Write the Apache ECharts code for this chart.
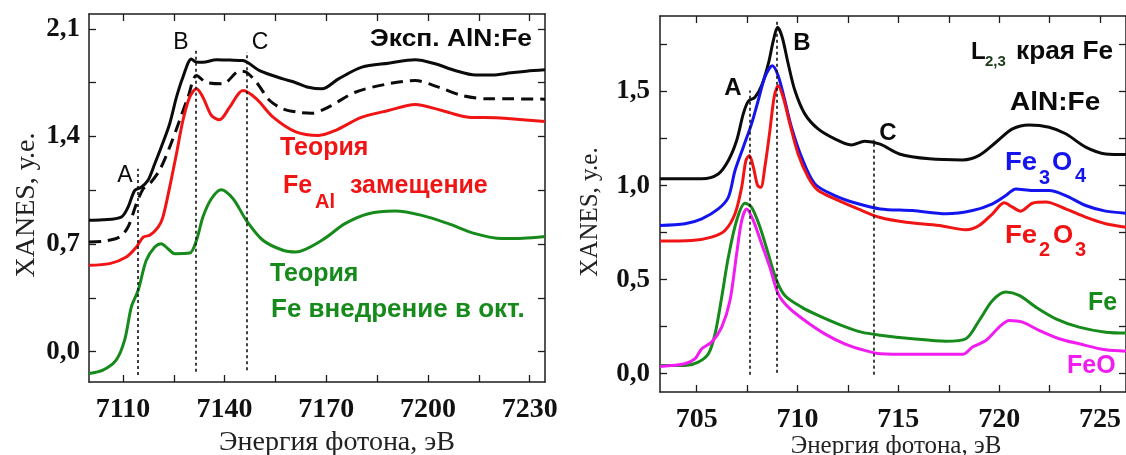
<!DOCTYPE html>
<html><head><meta charset="utf-8">
<script src="https://cdn.jsdelivr.net/npm/echarts@6/dist/echarts.min.js"></script>
<style>html,body{margin:0;padding:0;background:#fff;}#c{width:1126px;height:455px;}</style>
</head><body><div id="c"></div>
<script>
// ---------- LEFT PANEL (Fe K-edge) ----------
const leftExpE = [7100,7104,7109.5,7111.5,7113.5,7115.4,7117.4,7119.4,7121.3,7123.8,7125.8,7127.7,7130.2,7131.5,7133.6,7137.6,7141.5,7145.4,7150.3,7157.2,7161,7164.7,7168.7,7173.6,7180.5,7188.3,7196.2,7202.1,7208,7214,7219,7224.5,7229,7234.5];
const leftExpY = [0.855,0.858,0.876,0.94,1.05,1.07,1.115,1.223,1.33,1.483,1.656,1.786,1.905,1.885,1.883,1.899,1.897,1.894,1.829,1.775,1.75,1.72,1.71,1.775,1.851,1.877,1.899,1.873,1.829,1.80,1.80,1.815,1.825,1.834];
const leftDashE = [7100,7104.1,7109,7111.5,7114,7116,7117.9,7120.8,7123.8,7126.7,7129.2,7131.7,7134.6,7139.5,7144.4,7146.4,7149.4,7153.3,7157.2,7161.7,7165.7,7170.6,7178.5,7188.3,7196.2,7203.1,7210,7217.8,7224.5,7234.5];
const leftDashY = [0.714,0.718,0.746,0.811,0.963,1.06,1.093,1.18,1.331,1.504,1.656,1.797,1.753,1.743,1.825,1.818,1.753,1.634,1.58,1.558,1.552,1.591,1.688,1.743,1.764,1.721,1.667,1.645,1.645,1.643];
const leftRedE = [7100,7106.1,7111,7114,7116,7117.9,7120.4,7121.8,7123.8,7125.8,7127.7,7129.7,7131.7,7133.6,7136.1,7138.5,7141.5,7145.4,7149.4,7154.3,7161,7167.7,7172.6,7180.5,7188.3,7196.2,7204.1,7211.9,7219.8,7224.5,7234.5];
const leftRedY = [0.562,0.573,0.616,0.681,0.746,0.757,0.811,0.876,1.071,1.288,1.504,1.656,1.71,1.656,1.537,1.509,1.591,1.699,1.645,1.526,1.43,1.407,1.439,1.526,1.569,1.608,1.569,1.526,1.522,1.515,1.498];
const leftGreenE = [7100,7104.1,7108,7110.5,7112.5,7114.5,7116.9,7119.4,7121.3,7123.3,7125.3,7129.7,7131.7,7133.6,7136.1,7139,7142.5,7146.4,7151.3,7157.2,7161,7168.7,7175.5,7182.4,7190.3,7198.2,7206,7213.9,7221.8,7228,7234.5];
const leftGreenY = [-0.142,-0.12,-0.055,0.075,0.292,0.4,0.595,0.681,0.703,0.67,0.638,0.642,0.725,0.876,0.995,1.054,0.995,0.855,0.725,0.66,0.649,0.725,0.833,0.898,0.915,0.887,0.833,0.768,0.736,0.738,0.75];
const leftMarkE = [7114.3,7131.5,7146.4];
const leftMarkTop = [1.19,1.96,1.95];
const leftMarkBottom = [-0.152,-0.13,-0.12];
const leftXTicks = [7110,7125,7140,7155,7170,7185,7200,7215,7230];
const leftXLabels = [7110,7140,7170,7200,7230];
const leftYTicks = [0,0.35,0.7,1.05,1.4,1.75,2.1];
const leftYLabels = [0,0.7,1.4,2.1];

// ---------- RIGHT PANEL (Fe L2,3-edge) ----------
const rightAlnE = [703.18,705.25,706.07,706.57,706.98,707.31,707.56,707.89,708.22,708.55,708.8,709.01,709.24,709.54,709.87,710.36,711.02,711.85,712.67,713.33,714.1,715.05,716.54,718.19,719.01,719.84,720.66,721.49,722.48,723.3,724.29,725.28,726.29];
const rightAlnY = [1.036,1.036,1.062,1.133,1.239,1.381,1.448,1.469,1.531,1.646,1.77,1.841,1.788,1.646,1.505,1.381,1.301,1.248,1.216,1.236,1.22,1.168,1.142,1.136,1.16,1.23,1.301,1.322,1.31,1.275,1.204,1.168,1.165];
const rightFe3O4E = [703.18,704.42,705.25,706.07,706.57,706.9,707.31,707.72,708.05,708.38,708.75,709.04,709.37,709.7,710.2,710.86,711.85,713.0,714.1,715.71,717.36,718.68,719.67,720.33,720.83,721.65,722.48,723.3,724.29,725.28,726.29];
const rightFe3O4Y = [0.788,0.797,0.823,0.876,0.938,1.08,1.204,1.328,1.452,1.576,1.637,1.584,1.452,1.31,1.151,1.009,0.947,0.903,0.876,0.867,0.85,0.867,0.903,0.947,0.982,0.974,0.974,0.947,0.894,0.864,0.853];
const rightFe2O3E = [703.18,704.75,705.74,706.4,706.9,707.23,707.44,707.61,707.81,708.02,708.18,708.38,708.63,708.84,709.04,709.29,709.62,710.03,710.53,711.02,711.85,713.0,714.1,715.38,717.03,718.35,719.01,719.67,720.25,720.66,721.07,721.65,722.31,723.3,724.29,725.28,726.29];
const rightFe2O3Y = [0.705,0.708,0.726,0.761,0.85,0.991,1.133,1.16,1.098,1.0,0.991,1.098,1.292,1.469,1.531,1.469,1.328,1.168,1.044,0.974,0.929,0.876,0.83,0.805,0.788,0.765,0.788,0.85,0.908,0.885,0.864,0.906,0.912,0.876,0.832,0.797,0.779];
const rightFeE = [703.18,704.42,705.08,705.58,705.91,706.24,706.57,706.98,707.39,707.72,708.14,708.55,708.96,709.37,710.2,711.02,712.18,713.17,714.1,715.71,717.36,718.35,719.01,719.67,720.33,720.99,721.82,722.81,723.96,725.28,726.29];
const rightFeY = [0.044,0.044,0.062,0.106,0.212,0.407,0.62,0.814,0.906,0.885,0.779,0.637,0.496,0.416,0.354,0.31,0.257,0.221,0.205,0.186,0.173,0.186,0.283,0.389,0.434,0.416,0.354,0.292,0.248,0.221,0.216];
const rightFeOE = [703.18,704.42,704.92,705.25,705.74,706.24,706.65,706.98,707.23,707.48,707.81,708.22,708.63,709.04,709.54,710.36,711.35,712.34,713.33,714.1,715.71,718.19,718.68,719.34,720.0,720.5,721.16,721.98,722.97,723.96,725.28,726.29];
const rightFeOY = [0.039,0.053,0.08,0.133,0.168,0.248,0.389,0.637,0.814,0.876,0.814,0.69,0.566,0.425,0.354,0.283,0.212,0.159,0.124,0.106,0.103,0.103,0.142,0.177,0.248,0.283,0.274,0.23,0.186,0.159,0.127,0.12];
const rightMarkE = [707.64,708.96,713.8];
const rightMarkTop = [1.505,1.876,1.243];
const rightMarkBottom = [-0.005,0.005,-0.005];
const rightXTicks = [705,707.5,710,712.5,715,717.5,720,722.5,725];
const rightXLabels = [705,710,715,720,725];
const rightYTicks = [0,0.25,0.5,0.75,1,1.25,1.5,1.75];
const rightYLabels = [0,0.5,1,1.5];

// ---------- styling ----------
const AX = '#1c1c1c';
const BLACK = '#0b0b0b', RED = '#f01414', GREEN = '#178a1c', BLUE = '#1414ee', MAG = '#f01cf0';
const SANS = '"Liberation Sans", Arial, sans-serif';
const SERIF = '"Liberation Serif", "Times New Roman", serif';
const zip = (a, b) => a.map((v, i) => [v, b[i]]);
const comma = v => (Math.round(v * 10) / 10).toFixed(1).replace('.', ',');

function xAx(grid, min, max, ticks, labels, pos, size, margin) {
  return {
    type: 'value', gridIndex: grid, min: min, max: max, position: pos,
    axisLine: {show: true, onZero: false, lineStyle: {color: AX, width: 1.5}},
    axisTick: {show: true, inside: true, length: 7, customValues: ticks, lineStyle: {color: AX, width: 1.3}},
    axisLabel: labels ? {show: true, customValues: labels, formatter: v => String(v), color: '#111',
      fontFamily: SERIF, fontWeight: 'bold', fontSize: size, margin: margin} : {show: false},
    splitLine: {show: false}
  };
}
function yAx(grid, min, max, ticks, labels, pos, size, margin) {
  return {
    type: 'value', gridIndex: grid, min: min, max: max, position: pos,
    axisLine: {show: true, onZero: false, lineStyle: {color: AX, width: 1.5}},
    axisTick: {show: true, inside: true, length: 7, customValues: ticks, lineStyle: {color: AX, width: 1.3}},
    axisLabel: labels ? {show: true, customValues: labels, formatter: comma, color: '#111',
      fontFamily: SERIF, fontWeight: 'bold', fontSize: size, margin: margin} : {show: false},
    splitLine: {show: false}
  };
}
function line(name, xi, yi, data, color, dash) {
  return {name: name, type: 'line', xAxisIndex: xi, yAxisIndex: yi, data: data, showSymbol: false,
    smooth: 0.3, lineStyle: {color: color, width: 3, type: dash || 'solid'}, z: 3};
}
function marks(E, top, bot) {
  return {symbol: 'none', silent: true, label: {show: false},
    lineStyle: {color: '#111', width: 1.6, type: [3, 3]},
    data: E.map((e, i) => [{coord: [e, bot[i]]}, {coord: [e, top[i]]}])};
}
function txt(t, x, y, font, fill, align, rot, sx) {
  return {type: 'text', x: x, y: y, rotation: rot || 0, scaleX: sx || 1, z: 10,
    style: {text: t, font: font, fill: fill, align: align || 'left', verticalAlign: 'middle'}};
}

const s1 = line('Эксп. AlN:Fe', 0, 0, zip(leftExpE, leftExpY), BLACK);
const s2 = line('AlN:Fe (пунктир)', 0, 0, zip(leftDashE, leftDashY), BLACK, [12, 7]);
const s3 = line('Теория FeAl замещение', 0, 0, zip(leftRedE, leftRedY), RED);
const s4 = line('Теория Fe внедрение в окт.', 0, 0, zip(leftGreenE, leftGreenY), GREEN);
s1.markLine = marks(leftMarkE, leftMarkTop, leftMarkBottom);
const r1 = line('AlN:Fe', 2, 2, zip(rightAlnE, rightAlnY), BLACK);
const r2 = line('Fe3O4', 2, 2, zip(rightFe3O4E, rightFe3O4Y), BLUE);
const r3 = line('Fe2O3', 2, 2, zip(rightFe2O3E, rightFe2O3Y), RED);
const r4 = line('Fe', 2, 2, zip(rightFeE, rightFeY), GREEN);
const r5 = line('FeO', 2, 2, zip(rightFeOE, rightFeOY), MAG);
r1.markLine = marks(rightMarkE, rightMarkTop, rightMarkBottom);

const B25 = 'bold 25px ' + SANS, B26 = 'bold 26px ' + SANS, B20 = 'bold 20px ' + SANS;
const graphics = [
  // left panel annotations
  txt('Эксп. AlN:Fe', 370, 39, 'bold 24px ' + SANS, BLACK, 'left', 0, 1.1),
  txt('A', 125, 176, '23px ' + SANS, BLACK, 'center'),
  txt('B', 181, 43, '23px ' + SANS, BLACK, 'center'),
  txt('C', 260, 43, '23px ' + SANS, BLACK, 'center'),
  txt('Теория', 280, 148, B25, RED),
  txt('Fe', 283, 186, B25, RED),
  txt('Al', 315, 202, B20, RED),
  txt('замещение', 350, 186, B25, RED),
  txt('Теория', 270, 274, B25, GREEN),
  txt('Fe внедрение в окт.', 271, 310, B25, GREEN, 'left', 0, 1.04),
  // right panel annotations
  txt('A', 733, 88, 'bold 24px ' + SANS, BLACK, 'center'),
  txt('B', 802, 43, 'bold 24px ' + SANS, BLACK, 'center'),
  txt('C', 888, 133, 'bold 24px ' + SANS, BLACK, 'center'),
  txt('L', 971, 52, 'bold 24px ' + SANS, BLACK),
  txt('2,3', 985, 62, 'bold 15px ' + SANS, '#1d3a1d'),
  txt('края Fe', 1016, 52, 'bold 25px ' + SANS, BLACK, 'left', 0, 1.05),
  txt('AlN:Fe', 1010, 103, 'bold 25px ' + SANS, BLACK, 'left', 0, 1.12),
  txt('Fe', 1005, 163, B26, BLUE, 'left', 0, 1.06), txt('3', 1039, 178, B20, BLUE),
  txt('O', 1052, 163, B26, BLUE), txt('4', 1075, 176, B20, BLUE),
  txt('Fe', 1005, 236, B26, RED, 'left', 0, 1.06), txt('2', 1039, 250, B20, RED),
  txt('O', 1053, 236, B26, RED), txt('3', 1075, 250, B20, RED),
  txt('Fe', 1088, 303, B25, GREEN),
  txt('FeO', 1067, 366, B25, MAG),
  // axis titles
  txt('Энергия фотона, эВ', 337, 443, '28px ' + SERIF, '#222', 'center'),
  txt('Энергия фотона, эВ', 896, 446, '25px ' + SERIF, '#222', 'center'),
  txt('XANES, у.е.', 27, 205, '28px ' + SERIF, '#222', 'center', Math.PI / 2),
  txt('XANES, у.е.', 590, 212, '25px ' + SERIF, '#222', 'center', Math.PI / 2)
];

const chart = echarts.init(document.getElementById('c'));
chart.setOption({
  animation: false,
  backgroundColor: '#fff',
  grid: [
    {left: 89, top: 14, width: 456, height: 368},
    {left: 660, top: 16, width: 467, height: 376}
  ],
  xAxis: [
    xAx(0, 7100, 7234.5, leftXTicks, leftXLabels, 'bottom', 28, 14),
    xAx(0, 7100, 7234.5, leftXTicks, null, 'top'),
    xAx(1, 703.18, 726.29, rightXTicks, rightXLabels, 'bottom', 28, 14),
    xAx(1, 703.18, 726.29, rightXTicks, null, 'top')
  ],
  yAxis: [
    yAx(0, -0.197, 2.197, leftYTicks, leftYLabels, 'left', 27, 9),
    yAx(0, -0.197, 2.197, leftYTicks, null, 'right'),
    yAx(1, -0.097, 1.901, rightYTicks, rightYLabels, 'left', 27, 10),
    yAx(1, -0.097, 1.901, rightYTicks, null, 'right')
  ],
  series: [s1, s2, s3, s4, r1, r2, r3, r4, r5],
  graphic: graphics
});
</script></body></html>
